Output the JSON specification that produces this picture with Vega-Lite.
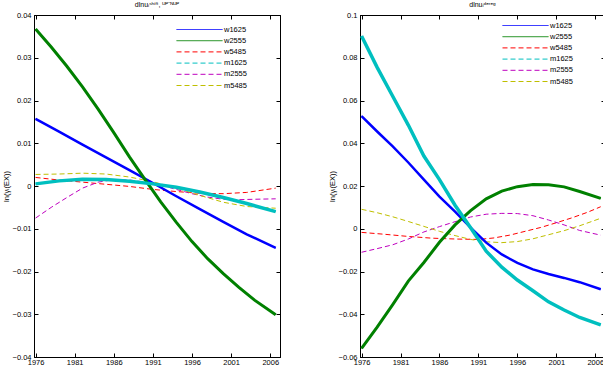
{
  "$schema": "https://vega.github.io/schema/vega-lite/v6.json",
  "padding": {"left": 1, "top": 0, "right": 0, "bottom": 0},
  "spacing": 43,
  "resolve": {"scale": {"color": "independent", "strokeDash": "independent", "strokeWidth": "independent"}, "legend": {"color": "independent", "strokeDash": "independent"}},
  "config": {
    "font": "Liberation Sans",
    "background": "white",
    "view": {"stroke": "black", "strokeWidth": 1},
    "axis": {"domainColor": "black", "tickColor": "black", "labelColor": "black", "titleColor": "black", "labelFontSize": 7.5, "titleFontSize": 7.5, "titleFontWeight": "normal", "tickSize": -4, "labelPadding": 7, "grid": false, "labelFlush": false, "titlePadding": 2, "labelFont": "Liberation Sans", "titleFont": "Liberation Sans"},
    "legend": {"symbolType": "M-4.6,0H4.6", "symbolSize": 100, "symbolStrokeWidth": 1, "symbolFillColor": "transparent", "labelFontSize": 7.5, "labelFont": "Liberation Sans", "labelColor": "black", "labelOffset": 19, "rowPadding": 2.2, "padding": 0, "title": null},
    "title": {"fontSize": 7, "fontWeight": "normal", "font": "Liberation Sans", "color": "black", "offset": 3}
  },
  "datasets": {
    "left": [
      {"series": "w1625", "year": 1976, "value": 0.0157},
      {"series": "w1625", "year": 1979, "value": 0.0127},
      {"series": "w1625", "year": 1982, "value": 0.0097},
      {"series": "w1625", "year": 1985, "value": 0.0067},
      {"series": "w1625", "year": 1988, "value": 0.0037},
      {"series": "w1625", "year": 1991, "value": 0.0007},
      {"series": "w1625", "year": 1994, "value": -0.0024},
      {"series": "w1625", "year": 1997, "value": -0.0054},
      {"series": "w1625", "year": 2000, "value": -0.0084},
      {"series": "w1625", "year": 2003, "value": -0.0113},
      {"series": "w1625", "year": 2006.7, "value": -0.0145},
      {"series": "w2555", "year": 1976, "value": 0.0367},
      {"series": "w2555", "year": 1978, "value": 0.0325},
      {"series": "w2555", "year": 1980, "value": 0.028},
      {"series": "w2555", "year": 1982, "value": 0.0232},
      {"series": "w2555", "year": 1984, "value": 0.018},
      {"series": "w2555", "year": 1986, "value": 0.0125},
      {"series": "w2555", "year": 1988, "value": 0.0068},
      {"series": "w2555", "year": 1990, "value": 0.0015},
      {"series": "w2555", "year": 1992, "value": -0.0037},
      {"series": "w2555", "year": 1994, "value": -0.0085},
      {"series": "w2555", "year": 1996, "value": -0.013},
      {"series": "w2555", "year": 1998, "value": -0.017},
      {"series": "w2555", "year": 2000, "value": -0.0205},
      {"series": "w2555", "year": 2002, "value": -0.0237},
      {"series": "w2555", "year": 2004, "value": -0.0267},
      {"series": "w2555", "year": 2006.7, "value": -0.0301},
      {"series": "w5485", "year": 1976, "value": 0.002},
      {"series": "w5485", "year": 1979, "value": 0.0014},
      {"series": "w5485", "year": 1982, "value": 0.0009},
      {"series": "w5485", "year": 1985, "value": 0.0004},
      {"series": "w5485", "year": 1988, "value": -0.0001},
      {"series": "w5485", "year": 1991, "value": -0.0008},
      {"series": "w5485", "year": 1994, "value": -0.0013},
      {"series": "w5485", "year": 1997, "value": -0.0017},
      {"series": "w5485", "year": 2000, "value": -0.0018},
      {"series": "w5485", "year": 2003, "value": -0.0015},
      {"series": "w5485", "year": 2006.7, "value": -0.0005},
      {"series": "m1625", "year": 1976, "value": 0.0005},
      {"series": "m1625", "year": 1979, "value": 0.0012},
      {"series": "m1625", "year": 1982, "value": 0.0016},
      {"series": "m1625", "year": 1985, "value": 0.0015},
      {"series": "m1625", "year": 1988, "value": 0.0011},
      {"series": "m1625", "year": 1991, "value": 0.0005},
      {"series": "m1625", "year": 1994, "value": -0.0003},
      {"series": "m1625", "year": 1997, "value": -0.0014},
      {"series": "m1625", "year": 2000, "value": -0.0027},
      {"series": "m1625", "year": 2003, "value": -0.0041},
      {"series": "m1625", "year": 2006.7, "value": -0.006},
      {"series": "m2555", "year": 1976, "value": -0.0075},
      {"series": "m2555", "year": 1978, "value": -0.005},
      {"series": "m2555", "year": 1980, "value": -0.0027},
      {"series": "m2555", "year": 1982, "value": -0.0005},
      {"series": "m2555", "year": 1984, "value": 0.0009},
      {"series": "m2555", "year": 1986, "value": 0.0015},
      {"series": "m2555", "year": 1988, "value": 0.0014},
      {"series": "m2555", "year": 1990, "value": 0.0009},
      {"series": "m2555", "year": 1992, "value": 0.0002},
      {"series": "m2555", "year": 1994, "value": -0.0008},
      {"series": "m2555", "year": 1996, "value": -0.0018},
      {"series": "m2555", "year": 1998, "value": -0.0026},
      {"series": "m2555", "year": 2000, "value": -0.0031},
      {"series": "m2555", "year": 2002, "value": -0.0032},
      {"series": "m2555", "year": 2004, "value": -0.0031},
      {"series": "m2555", "year": 2006.7, "value": -0.003},
      {"series": "m5485", "year": 1976, "value": 0.0027},
      {"series": "m5485", "year": 1979, "value": 0.0028},
      {"series": "m5485", "year": 1982, "value": 0.003},
      {"series": "m5485", "year": 1985, "value": 0.0028},
      {"series": "m5485", "year": 1988, "value": 0.0021},
      {"series": "m5485", "year": 1991, "value": 0.001},
      {"series": "m5485", "year": 1994, "value": -0.0005},
      {"series": "m5485", "year": 1997, "value": -0.0022},
      {"series": "m5485", "year": 2000, "value": -0.0038},
      {"series": "m5485", "year": 2003, "value": -0.0048},
      {"series": "m5485", "year": 2006.7, "value": -0.0052}
    ],
    "right": [
      {"series": "w1625", "year": 1976, "value": 0.0527},
      {"series": "w1625", "year": 1978, "value": 0.0455},
      {"series": "w1625", "year": 1980, "value": 0.0385},
      {"series": "w1625", "year": 1982, "value": 0.031},
      {"series": "w1625", "year": 1984, "value": 0.023},
      {"series": "w1625", "year": 1986, "value": 0.015},
      {"series": "w1625", "year": 1988, "value": 0.008},
      {"series": "w1625", "year": 1990, "value": 0.0005},
      {"series": "w1625", "year": 1992, "value": -0.0065},
      {"series": "w1625", "year": 1994, "value": -0.012},
      {"series": "w1625", "year": 1996, "value": -0.016},
      {"series": "w1625", "year": 1998, "value": -0.019},
      {"series": "w1625", "year": 2000, "value": -0.0212},
      {"series": "w1625", "year": 2002, "value": -0.023},
      {"series": "w1625", "year": 2004, "value": -0.025},
      {"series": "w1625", "year": 2006.7, "value": -0.0283},
      {"series": "w2555", "year": 1976, "value": -0.056},
      {"series": "w2555", "year": 1978, "value": -0.046},
      {"series": "w2555", "year": 1980, "value": -0.0355},
      {"series": "w2555", "year": 1982, "value": -0.0245},
      {"series": "w2555", "year": 1984, "value": -0.0158},
      {"series": "w2555", "year": 1986, "value": -0.0063},
      {"series": "w2555", "year": 1988, "value": 0.0018},
      {"series": "w2555", "year": 1990, "value": 0.0085},
      {"series": "w2555", "year": 1992, "value": 0.014},
      {"series": "w2555", "year": 1994, "value": 0.0176},
      {"series": "w2555", "year": 1996, "value": 0.0197},
      {"series": "w2555", "year": 1998, "value": 0.0207},
      {"series": "w2555", "year": 2000, "value": 0.0206},
      {"series": "w2555", "year": 2002, "value": 0.0196},
      {"series": "w2555", "year": 2004, "value": 0.0174},
      {"series": "w2555", "year": 2006.7, "value": 0.0142},
      {"series": "w5485", "year": 1976, "value": -0.0017},
      {"series": "w5485", "year": 1979, "value": -0.0026},
      {"series": "w5485", "year": 1982, "value": -0.0036},
      {"series": "w5485", "year": 1985, "value": -0.0044},
      {"series": "w5485", "year": 1988, "value": -0.0048},
      {"series": "w5485", "year": 1991, "value": -0.005},
      {"series": "w5485", "year": 1993, "value": -0.0043},
      {"series": "w5485", "year": 1995, "value": -0.003},
      {"series": "w5485", "year": 1997, "value": -0.0012},
      {"series": "w5485", "year": 1999, "value": 0.0006},
      {"series": "w5485", "year": 2001, "value": 0.0028},
      {"series": "w5485", "year": 2003, "value": 0.0051},
      {"series": "w5485", "year": 2005, "value": 0.0077},
      {"series": "w5485", "year": 2006.7, "value": 0.0103},
      {"series": "m1625", "year": 1976, "value": 0.0902},
      {"series": "m1625", "year": 1978, "value": 0.0755},
      {"series": "m1625", "year": 1980, "value": 0.062},
      {"series": "m1625", "year": 1982, "value": 0.0485},
      {"series": "m1625", "year": 1984, "value": 0.034},
      {"series": "m1625", "year": 1986, "value": 0.023},
      {"series": "m1625", "year": 1988, "value": 0.011},
      {"series": "m1625", "year": 1990, "value": 0.0005},
      {"series": "m1625", "year": 1992, "value": -0.0105},
      {"series": "m1625", "year": 1994, "value": -0.018},
      {"series": "m1625", "year": 1996, "value": -0.024},
      {"series": "m1625", "year": 1998, "value": -0.029},
      {"series": "m1625", "year": 2000, "value": -0.0342},
      {"series": "m1625", "year": 2002, "value": -0.038},
      {"series": "m1625", "year": 2004, "value": -0.0415},
      {"series": "m1625", "year": 2006.7, "value": -0.045},
      {"series": "m2555", "year": 1976, "value": -0.011},
      {"series": "m2555", "year": 1978, "value": -0.0093},
      {"series": "m2555", "year": 1980, "value": -0.0075},
      {"series": "m2555", "year": 1982, "value": -0.0048},
      {"series": "m2555", "year": 1984, "value": -0.0015},
      {"series": "m2555", "year": 1986, "value": 0.001},
      {"series": "m2555", "year": 1988, "value": 0.0033},
      {"series": "m2555", "year": 1990, "value": 0.0055},
      {"series": "m2555", "year": 1992, "value": 0.0068},
      {"series": "m2555", "year": 1994, "value": 0.0072},
      {"series": "m2555", "year": 1996, "value": 0.0071},
      {"series": "m2555", "year": 1998, "value": 0.0061},
      {"series": "m2555", "year": 2000, "value": 0.0041},
      {"series": "m2555", "year": 2002, "value": 0.0018},
      {"series": "m2555", "year": 2004, "value": -0.0008},
      {"series": "m2555", "year": 2006.7, "value": -0.003},
      {"series": "m5485", "year": 1976, "value": 0.0091},
      {"series": "m5485", "year": 1978, "value": 0.0075},
      {"series": "m5485", "year": 1980, "value": 0.0056},
      {"series": "m5485", "year": 1982, "value": 0.0034},
      {"series": "m5485", "year": 1984, "value": 0.0011},
      {"series": "m5485", "year": 1986, "value": -0.0012},
      {"series": "m5485", "year": 1988, "value": -0.0032},
      {"series": "m5485", "year": 1990, "value": -0.005},
      {"series": "m5485", "year": 1992, "value": -0.0061},
      {"series": "m5485", "year": 1994, "value": -0.0065},
      {"series": "m5485", "year": 1996, "value": -0.006},
      {"series": "m5485", "year": 1998, "value": -0.0047},
      {"series": "m5485", "year": 2000, "value": -0.0028},
      {"series": "m5485", "year": 2002, "value": -0.0009},
      {"series": "m5485", "year": 2004, "value": 0.0014},
      {"series": "m5485", "year": 2006.7, "value": 0.0049}
    ]
  },
  "hconcat": [
    {
      "width": 246,
      "height": 342,
      "title": {"text": "dlnuᵢˢʰⁱᶠᵗ, ᵁᴾ⁻ᴺᵁᴾ"},
      "data": {"name": "left"},
      "resolve": {"axis": {"x": "independent", "y": "independent"}},
      "layer": [
        {
          "mark": {"type": "line", "strokeWidth": 1},
          "encoding": {
            "x": {"field": "year", "type": "quantitative", "scale": {"domain": [1975.8, 2007.25], "nice": false, "zero": false}, "axis": {"title": null, "values": [1976, 1981, 1986, 1991, 1996, 2001, 2006], "format": "d", "labelPadding": 5}},
            "y": {"field": "value", "type": "quantitative", "scale": {"domain": [-0.04, 0.04], "nice": false}, "axis": {"title": "ln(γᵢ(EX))", "values": [-0.04, -0.03, -0.02, -0.01, 0, 0.01, 0.02, 0.03, 0.04], "format": ".2~f"}},
            "color": {"field": "series", "type": "nominal", "scale": {"domain": ["w1625", "w2555", "w5485", "m1625", "m2555", "m5485"], "range": ["#0000ff", "#008000", "#ff0000", "#00bfbf", "#bf00bf", "#bfbf00"]}, "legend": {"orient": "none", "legendX": 160, "legendY": 9}},
            "strokeDash": {"field": "series", "type": "nominal", "scale": {"domain": ["w1625", "w2555", "w5485", "m1625", "m2555", "m5485"], "range": [[1, 0], [1, 0], [5, 3], [5, 3], [5, 3], [5, 3]]}, "legend": {"orient": "none", "legendX": 160, "legendY": 9}}
          }
        },
        {
          "transform": [{"filter": {"field": "series", "oneOf": ["w1625", "w2555", "m1625"]}}],
          "mark": {"type": "line"},
          "encoding": {
            "x": {"field": "year", "type": "quantitative", "axis": null},
            "y": {"field": "value", "type": "quantitative", "axis": null},
            "color": {"field": "series", "type": "nominal", "legend": null},
            "strokeWidth": {"field": "series", "type": "nominal", "scale": {"domain": ["w1625", "w2555", "m1625"], "range": [2.5, 3.5, 3.5]}, "legend": null}
          }
        },
        {
          "mark": {"type": "line", "opacity": 0},
          "encoding": {
            "x": {"field": "year", "type": "quantitative", "axis": {"orient": "top", "title": null, "labels": false, "values": [1976, 1981, 1986, 1991, 1996, 2001, 2006]}},
            "y": {"field": "value", "type": "quantitative", "axis": {"orient": "right", "title": null, "labels": false, "values": [-0.04, -0.03, -0.02, -0.01, 0, 0.01, 0.02, 0.03, 0.04]}},
            "detail": {"field": "series"}
          }
        }
      ]
    },
    {
      "width": 245,
      "height": 342,
      "title": {"text": "dlnuᵢᵈᵉʳᵉᵍ"},
      "data": {"name": "right"},
      "resolve": {"axis": {"x": "independent", "y": "independent"}},
      "layer": [
        {
          "mark": {"type": "line", "strokeWidth": 1},
          "encoding": {
            "x": {"field": "year", "type": "quantitative", "scale": {"domain": [1975.8, 2007.25], "nice": false, "zero": false}, "axis": {"title": null, "values": [1976, 1981, 1986, 1991, 1996, 2001, 2006], "format": "d", "labelPadding": 5}},
            "y": {"field": "value", "type": "quantitative", "scale": {"domain": [-0.06, 0.1], "nice": false}, "axis": {"title": "ln(γᵢ(EX))", "values": [-0.06, -0.04, -0.02, 0, 0.02, 0.04, 0.06, 0.08, 0.1], "format": ".2~f"}},
            "color": {"field": "series", "type": "nominal", "scale": {"domain": ["w1625", "w2555", "w5485", "m1625", "m2555", "m5485"], "range": ["#0000ff", "#008000", "#ff0000", "#00bfbf", "#bf00bf", "#bfbf00"]}, "legend": {"orient": "none", "legendX": 160, "legendY": 5}},
            "strokeDash": {"field": "series", "type": "nominal", "scale": {"domain": ["w1625", "w2555", "w5485", "m1625", "m2555", "m5485"], "range": [[1, 0], [1, 0], [5, 3], [5, 3], [5, 3], [5, 3]]}, "legend": {"orient": "none", "legendX": 160, "legendY": 5}}
          }
        },
        {
          "transform": [{"filter": {"field": "series", "oneOf": ["w1625", "w2555", "m1625"]}}],
          "mark": {"type": "line"},
          "encoding": {
            "x": {"field": "year", "type": "quantitative", "axis": null},
            "y": {"field": "value", "type": "quantitative", "axis": null},
            "color": {"field": "series", "type": "nominal", "legend": null},
            "strokeWidth": {"field": "series", "type": "nominal", "scale": {"domain": ["w1625", "w2555", "m1625"], "range": [2.5, 3.5, 3.5]}, "legend": null}
          }
        },
        {
          "mark": {"type": "line", "opacity": 0},
          "encoding": {
            "x": {"field": "year", "type": "quantitative", "axis": {"orient": "top", "title": null, "labels": false, "values": [1976, 1981, 1986, 1991, 1996, 2001, 2006]}},
            "y": {"field": "value", "type": "quantitative", "axis": {"orient": "right", "title": null, "labels": false, "values": [-0.06, -0.04, -0.02, 0, 0.02, 0.04, 0.06, 0.08, 0.1]}},
            "detail": {"field": "series"}
          }
        }
      ]
    }
  ]
}
